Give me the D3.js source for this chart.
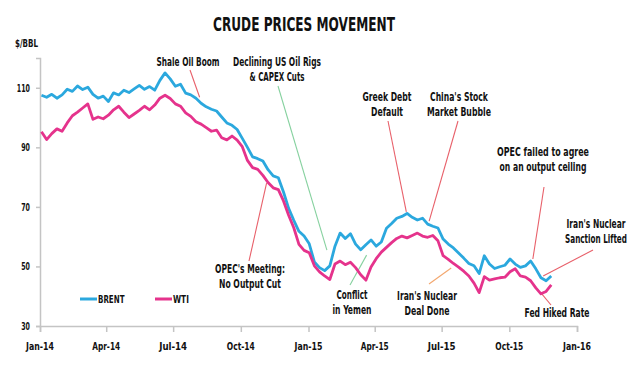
<!DOCTYPE html>
<html>
<head>
<meta charset="utf-8">
<script src="https://cdn.jsdelivr.net/npm/d3@7"></script>
<style>
  body { margin: 0; background: #fff; }
  svg text { font-family: "DejaVu Sans Condensed", "Liberation Sans", sans-serif; font-weight: bold; fill: #111; }
</style>
</head>
<body>
<svg id="chart" width="640" height="390"></svg>
<script>
// weekly closes, first week starts 2014-01-03
const startDate = new Date(2014, 0, 3);
const brent = [107.5,106.8,107.8,106.5,107.6,109.5,108.8,110.6,109.4,110.2,
  107.8,106.5,107.2,105.4,108.3,107.6,109.2,108.4,109.6,110.8,
  109.5,110.4,109.2,112.5,115,113,110.5,111.2,108.2,107.6,
  106.5,104.8,103.6,102.8,102.2,100.2,98.2,97.4,96,93,
  90,86.8,86.2,85.4,82.5,80.4,79.8,75,69.5,65.5,
  61.8,60.2,57.6,51.5,49.6,48.6,50.2,56.8,61.2,59.4,
  61,57.5,55.6,57.3,58.9,56.8,58.2,62.8,64.4,66.2,
  66.8,67.8,66.5,65.6,66.2,64.2,63.5,62.9,59.2,57.5,
  56.2,54.5,52.8,51,50.2,47.6,53.6,50.8,49.3,49.9,
  50.4,52.5,50.8,49.7,50.2,51.8,49.2,46.2,45.2,46.8];
const wti = [95.2,92.6,94.6,96.2,95.4,98.2,100.6,101.8,103.2,104.6,
  99.4,100.2,99.6,100.8,102.6,103.8,101.8,100,101.2,102.4,
  103.8,102.6,104.2,106.5,107.5,106.4,104.6,103.8,101.6,100.4,
  98.6,97.8,96.6,95.4,95.8,93.2,92.5,93.8,92.4,90.2,
  85.6,83.2,82.6,80.6,78.2,76.4,75.8,72,67.2,63,
  57.4,55.4,54.6,50.2,48.2,46.8,45.6,50.8,51.8,50.6,
  51.4,49.6,47.2,45.4,49.8,52.6,54.8,56.4,58,59.4,
  60.2,59.6,60.4,61.2,60.2,59.8,60.4,58.6,53.6,52.4,
  51,49.8,48.4,46.8,44.4,41.2,46.6,45.4,45.8,46.2,
  46.4,48.2,49.2,46.8,46.4,45.2,42.8,40.8,41.6,43.8];
const seriesNames = ["BRENT", "WTI"];
const seriesColors = ["#2ba8de", "#e5338c"];
const yTicks = [30, 50, 70, 90, 110];
const xTicks = ["2014-01-01","2014-04-01","2014-07-01","2014-10-01","2015-01-01",
  "2015-04-01","2015-07-01","2015-10-01","2016-01-01"];

// notes: label lines (with their widths), label centre, line start (px) and the date/value it points to
const notes = [
  {text: ["Shale Oil Boom"], w: [63], cx: 188, cy: 66, from: [190, 70], date: "2014-08-06", value: 106.8, color: "#e8606a"},
  {text: ["Declining US Oil Rigs", "& CAPEX Cuts"], w: [88, 55], cx: 277, cy: 66, from: [278, 86], date: "2015-01-26", value: 55.5, color: "#86d19f"},
  {text: ["OPEC's Meeting:", "No Output Cut"], w: [70, 62], cx: 250, cy: 273, from: [249, 261], date: "2014-11-05", value: 78, color: "#e8606a"},
  {text: ["Conflict", "in Yemen"], w: [31, 39], cx: 352, cy: 299, from: [350, 285], date: "2015-03-21", value: 53.8, color: "#86d19f"},
  {text: ["Iran's Nuclear", "Deal Done"], w: [60, 45], cx: 427, cy: 300, from: [429, 284], date: "2015-07-14", value: 49.5, color: "#f3a76e"},
  {text: ["Greek Debt", "Default"], w: [49, 32], cx: 387, cy: 101, from: [388, 121], date: "2015-05-14", value: 68.3, color: "#e8606a"},
  {text: ["China's Stock", "Market Bubble"], w: [58, 64], cx: 459, cy: 101, from: [458, 121], date: "2015-06-14", value: 65.2, color: "#e8606a"},
  {text: ["OPEC failed to agree", "on an output ceiling"], w: [92, 87], cx: 543, cy: 156, from: [544, 187], date: "2015-11-02", value: 52.5, color: "#e8606a"},
  {text: ["Iran's Nuclear", "Sanction Lifted"], w: [59, 62], cx: 596, cy: 228, from: [593, 250], date: "2015-11-16", value: 46.8, color: "#e8606a"},
  {text: ["Fed Hiked Rate"], w: [65], cx: 557, cy: 317, from: [551, 305], date: "2015-11-13", value: 41.1, color: "#e8606a"}
];

const svg = d3.select("#chart");
const parse = d3.timeParse("%Y-%m-%d");
const fmt = d3.timeFormat("%b-%y");

const x = d3.scaleTime().domain([parse("2014-01-01"), parse("2016-01-01")]).range([40, 577]);
const y = d3.scaleLinear().domain([30, 120]).range([326, 58]);

const dates = brent.map((d, i) => d3.timeDay.offset(startDate, 7 * i));

// write a label at (px, py) squeezed sideways to a given width
function label(parent, str, px, py, width, size, anchor) {
  const g = parent.append("g");
  const t = g.append("text").style("font-size", size + "px").attr("text-anchor", anchor || "start").text(str);
  const sx = width / t.node().getComputedTextLength();
  g.attr("transform", `translate(${px},${py}) scale(${sx},1)`);
  return t;
}

label(svg, "CRUDE PRICES MOVEMENT", 304, 31, 182, 19, "middle");
label(svg, "$/BBL", 15, 47, 23, 11);

// axes
const yAxis = svg.append("g").attr("transform", "translate(40,0)")
  .call(d3.axisLeft(y).tickValues(yTicks).tickSize(4).tickFormat(""));
const xAxis = svg.append("g").attr("transform", "translate(0,326)")
  .call(d3.axisBottom(x).tickValues(xTicks.map(parse)).tickFormat("").tickSize(6));
[yAxis, xAxis].forEach(g => {
  g.select(".domain").attr("stroke", "#c4c4c4").attr("stroke-width", 1.5);
  g.selectAll(".tick line").attr("stroke", "#c4c4c4").attr("stroke-width", 1.5);
});
yTicks.forEach(v => label(svg, String(v), 30, y(v) + 4, String(v).length * 4.4, 11, "end"));
xTicks.map(parse).forEach(d => label(svg, fmt(d), x(d), 350, 28, 11, "middle"));

// note leader lines
notes.forEach(n => {
  svg.append("line")
    .attr("x1", n.from[0]).attr("y1", n.from[1])
    .attr("x2", x(parse(n.date))).attr("y2", y(n.value))
    .attr("stroke", n.color).attr("stroke-width", 1.1);
});

// series
const line = d3.line().x((d, i) => x(dates[i])).y(d => y(d));
[brent, wti].forEach((s, k) => {
  svg.append("path").datum(s)
    .attr("fill", "none").attr("stroke", seriesColors[k]).attr("stroke-width", 2.8)
    .attr("stroke-linejoin", "round").attr("d", line);
});

// note labels
notes.forEach(n => {
  n.text.forEach((s, i) => label(svg, s, n.cx, n.cy + i * 15, n.w[i], 12, "middle"));
});

// legend
const legendX = [80, 155];
seriesNames.forEach((name, k) => {
  svg.append("line").attr("x1", legendX[k]).attr("x2", legendX[k] + 17)
    .attr("y1", 299).attr("y2", 299).attr("stroke", seriesColors[k]).attr("stroke-width", 3);
  label(svg, name, legendX[k] + 18, 303, name.length * 5.3, 11);
});
</script>
</body>
</html>
